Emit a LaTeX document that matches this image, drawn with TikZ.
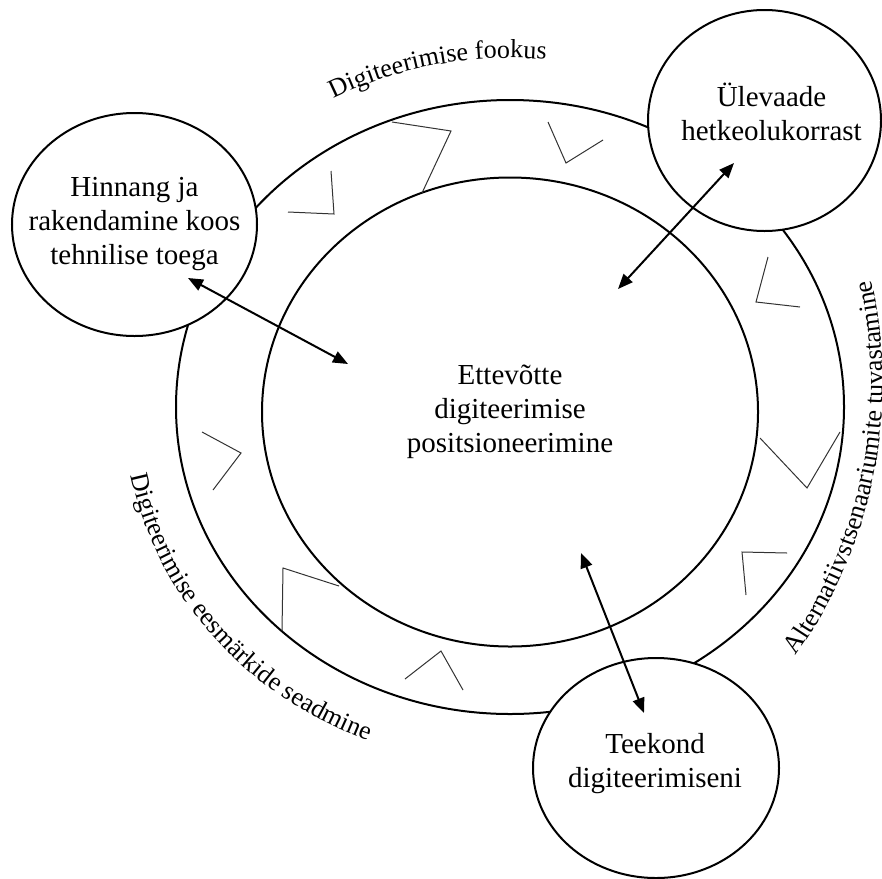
\documentclass[tikz,border=0pt]{standalone}
\usepackage{fontspec}
\setmainfont{Liberation Serif}
\usetikzlibrary{shapes.geometric,arrows.meta,decorations.text}
\newcommand{\mainsize}{\fontsize{29}{34}\selectfont}
\newcommand{\arcsize}{\fontsize{26}{30}\selectfont}

\begin{document}
\begin{tikzpicture}[x=1pt,y=1pt,
		ring/.style={ellipse,draw,line width=2pt},
		bubble/.style={ellipse,draw,fill=white,line width=2pt},
		caption/.style={align=center,font=\mainsize,inner sep=0pt},
		link/.style={{Triangle[length=15pt,width=12pt]}-{Triangle[length=15pt,width=12pt]},line width=2pt},
		tick/.style={line width=1pt,black!80},
		arctext/.style={decorate,decoration={text along path,text align=left,text={|\arcsize|#1}}}]
		\useasboundingbox (0,0) rectangle (882,-878);
		\node[ring,minimum width=668pt,minimum height=614pt] (outer) at (510,-407) {};
		\node[ring,minimum width=496pt,minimum height=469pt] (inner) at (510,-412) {};
		\node[caption] (innertext) at (inner) {Ettevõtte\\digiteerimise\\positsioneerimine};
		\draw[tick] (288,-212) -- (334,-214) -- (331,-171);
		\draw[tick] (392,-122) -- (451,-131) -- (422,-193);
		\draw[tick] (548,-122) -- (566,-163) -- (603,-140);
		\draw[tick] (768,-257) -- (756,-302) -- (800,-307);
		\draw[tick] (760,-438) -- (807,-488) -- (840,-432);
		\draw[tick] (787,-553) -- (742,-552) -- (746,-595);
		\draw[tick] (405,-679) -- (441,-651) -- (463,-690);
		\draw[tick] (282,-631) -- (283,-568) -- (339,-586);
		\draw[tick] (202,-432) -- (241,-453) -- (213,-490);
		\node[bubble,minimum width=245pt,minimum height=223pt] (hinnang) at (134.5,-224.5) {};
		\node[caption] (hinnangtext) at (hinnang) {Hinnang ja\\rakendamine koos\\tehnilise toega};
		\node[bubble,minimum width=233pt,minimum height=221pt] (ulevaade) at (764.5,-120.5) {};
		\node[caption] (ulevaadetext) at ([xshift=7pt,yshift=9pt]ulevaade.center) {Ülevaade\\hetkeolukorrast};
		\node[bubble,minimum width=246pt,minimum height=220pt] (teekond) at (656,-768) {};
		\node[caption] (teekondtext) at ([xshift=-1pt,yshift=4pt]teekond.center) {Teekond\\digiteerimiseni};
		\coordinate (hinnangend) at (188,-278);
		\coordinate (innerleft) at (348,-364);
		\coordinate (ulevaadeend) at (734,-163);
		\coordinate (innerright) at (618,-289);
		\coordinate (innerlow) at (581,-553);
		\coordinate (teekondend) at (644,-713);
		\draw[link] (hinnangend) -- (innerleft);
		\draw[link] (ulevaadeend) -- (innerright);
		\draw[link] (innerlow) -- (teekondend);
		\path[arctext={Digiteerimise fookus}] (outer.center) ++(118:376 and 349) arc[start angle=118,end angle=60,x radius=376,y radius=349];
		\path[arctext={Digiteerimise eesmärkide seadmine}] (outer.center) ++(191:386 and 359) arc[start angle=191,end angle=265,x radius=386,y radius=359];
		\path[arctext={Alternatiivstsenaariumite tuvastamine}] (416,-384) ++(-35.6:467) arc[start angle=-35.6,end angle=25,radius=467];
	\end{tikzpicture}
\end{document}
